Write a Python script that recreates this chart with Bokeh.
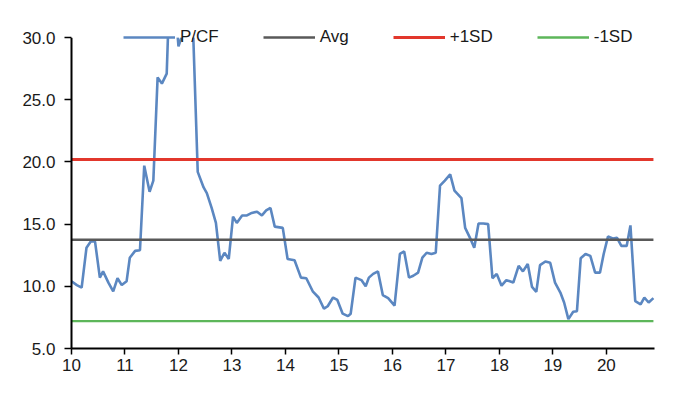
from bokeh.plotting import figure
from bokeh.models import Range1d, FixedTicker, Legend, LegendItem, NumeralTickFormatter, BoxAnnotation
from bokeh.embed import file_html
from bokeh.resources import INLINE

# P/CF series (decimal year, value); values above 30 are clipped at the axis maximum
years = [10.00, 10.10, 10.19, 10.28, 10.36, 10.44, 10.53, 10.59, 10.69, 10.78, 10.86, 10.94,
         11.03, 11.09, 11.19, 11.28, 11.36, 11.46, 11.53, 11.61, 11.69, 11.78, 11.82, 11.95,
         12.00, 12.12, 12.20, 12.27, 12.36, 12.47, 12.53, 12.62, 12.70, 12.78, 12.86, 12.94,
         13.02, 13.09, 13.19, 13.28, 13.37, 13.47, 13.56, 13.64, 13.72, 13.80, 13.95,
         14.04, 14.17, 14.29, 14.39, 14.51, 14.62, 14.72, 14.79, 14.89, 14.97,
         15.07, 15.17, 15.22, 15.31, 15.42, 15.50, 15.56, 15.64, 15.73, 15.82, 15.92,
         16.04, 16.14, 16.22, 16.31, 16.39, 16.48, 16.56, 16.64, 16.73, 16.81, 16.89, 16.98,
         17.08, 17.16, 17.29, 17.36, 17.45, 17.53, 17.61, 17.70, 17.79, 17.87, 17.95,
         18.04, 18.13, 18.26, 18.36, 18.44, 18.53, 18.61, 18.69, 18.76, 18.86, 18.95,
         19.04, 19.14, 19.21, 19.29, 19.38, 19.45, 19.52, 19.61, 19.70, 19.79, 19.88, 19.95,
         20.03, 20.12, 20.20, 20.28, 20.38, 20.45, 20.54, 20.64, 20.71, 20.79, 20.88]
pcf = [10.4, 10.1, 9.9, 13.1, 13.6, 13.6, 10.7, 11.2, 10.3, 9.6, 10.65, 10.1,
       10.4, 12.3, 12.85, 12.9, 19.7, 17.6, 18.5, 26.8, 26.3, 27.1, 32.2, 32.0,
       29.3, 30.8, 32.0, 31.0, 19.2, 17.95, 17.5, 16.3, 15.1, 12.05, 12.7, 12.2,
       15.6, 15.1, 15.7, 15.7, 15.9, 16.0, 15.7, 16.1, 16.3, 14.8, 14.7,
       12.2, 12.1, 10.7, 10.65, 9.6, 9.1, 8.2, 8.4, 9.1, 8.9,
       7.8, 7.6, 7.8, 10.7, 10.5, 10.0, 10.7, 11.0, 11.2, 9.3, 9.05,
       8.45, 12.6, 12.8, 10.7, 10.85, 11.1, 12.3, 12.7, 12.6, 12.7, 18.1, 18.5,
       19.0, 17.7, 17.1, 14.7, 13.9, 13.1, 15.05, 15.05, 15.0, 10.65, 11.0,
       10.05, 10.5, 10.3, 11.65, 11.2, 11.8, 9.95, 9.55, 11.7, 12.0, 11.9,
       10.3, 9.5, 8.7, 7.36, 7.95, 8.0, 12.25, 12.6, 12.45, 11.1, 11.1, 12.6,
       14.0, 13.85, 13.9, 13.25, 13.25, 14.9, 8.8, 8.55, 9.1, 8.7, 9.05]

avg = 13.75
plus_1sd = 20.2
minus_1sd = 7.2

x_ticks = [10, 11, 12, 13, 14, 15, 16, 17, 18, 19, 20]
y_ticks = [5, 10, 15, 20, 25, 30]
y_min, y_max = 5, 30
series_names = ["P/CF", "Avg", "+1SD", "-1SD"]

FONT = "Liberation Sans"

# frame extends above 30 so the legend (centred on the 30 line) is not clipped;
# a white band above 30 hides the part of the series beyond the axis maximum
p = figure(width=680, height=390, output_backend="svg", toolbar_location=None,
           x_range=Range1d(10, 20.9), y_range=Range1d(y_min, y_max + 2.5),
           min_border_left=71, min_border_top=6, min_border_right=26, min_border_bottom=42)
p.outline_line_color = None
p.xgrid.visible = False
p.ygrid.visible = False
p.background_fill_color = "white"

x_span = [years[0], years[-1]]
r_pcf = p.line(years, pcf, line_color="#5B87C1", line_width=2.6)
r_avg = p.line(x_span, [avg, avg], line_color="#595959", line_width=2.6)
r_p1 = p.line(x_span, [plus_1sd, plus_1sd], line_color="#E2372C", line_width=3)
r_m1 = p.line(x_span, [minus_1sd, minus_1sd], line_color="#5DB65A", line_width=2.4)

p.add_layout(BoxAnnotation(bottom=y_max, fill_color="white", fill_alpha=1.0,
                           line_color="white", line_width=1))

for ax in (p.xaxis[0], p.yaxis[0]):
    ax.axis_line_color = "black"
    ax.axis_line_width = 2
    ax.major_tick_line_color = "black"
    ax.major_tick_line_width = 1.5
    ax.minor_tick_line_color = None
    ax.major_label_text_font = FONT
    ax.major_label_text_font_size = "17px"
    ax.major_label_text_color = "#1a1a1a"

p.xaxis.ticker = FixedTicker(ticks=x_ticks)
p.xaxis.major_tick_in = 0
p.xaxis.major_tick_out = 6
p.xaxis.major_label_standoff = 4

p.yaxis.ticker = FixedTicker(ticks=y_ticks)
p.yaxis.bounds = (y_min, y_max)
p.yaxis.formatter = NumeralTickFormatter(format="0.0")
p.yaxis.major_tick_in = 0
p.yaxis.major_tick_out = 7
p.yaxis.major_label_standoff = 9

legend = Legend(items=[LegendItem(label=series_names[0], renderers=[r_pcf]),
                       LegendItem(label=series_names[1], renderers=[r_avg]),
                       LegendItem(label=series_names[2], renderers=[r_p1]),
                       LegendItem(label=series_names[3], renderers=[r_m1])],
                orientation="horizontal", location=(52, 301))
legend.background_fill_alpha = 0
legend.border_line_color = None
legend.padding = 0
legend.margin = 0
legend.glyph_width = 52
legend.glyph_height = 20
legend.label_standoff = 5
legend.spacing = 44
legend.label_text_font = FONT
legend.label_text_font_size = "17px"
legend.label_text_color = "#1a1a1a"
p.add_layout(legend)

open("out.html", "w").write(file_html(p, INLINE))
